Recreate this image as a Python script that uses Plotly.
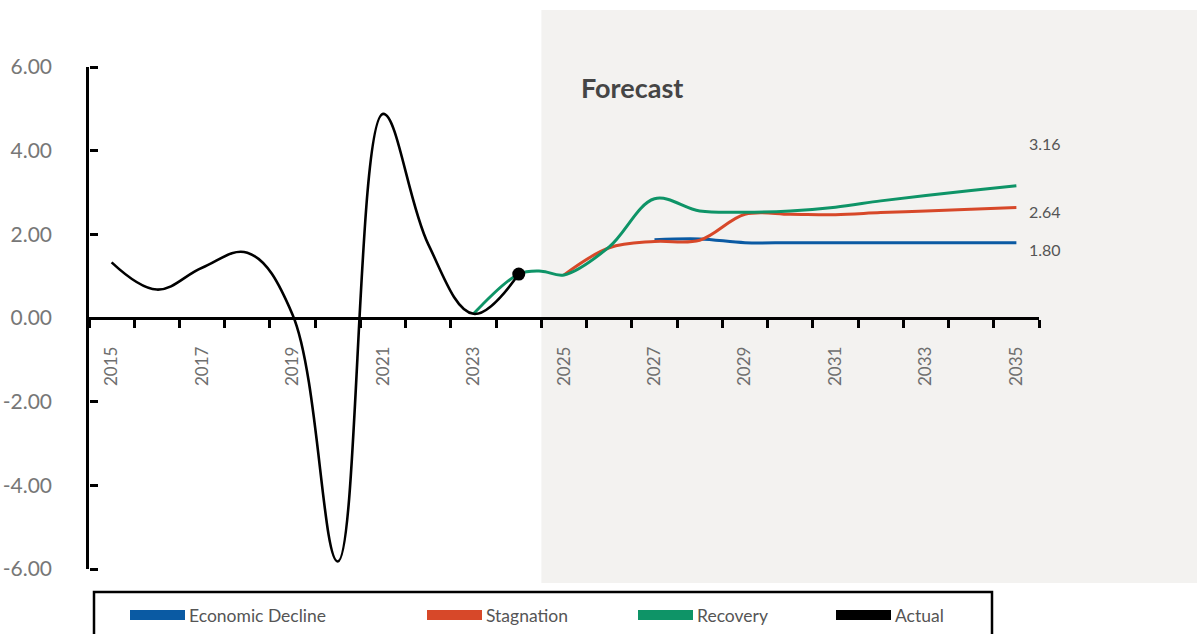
import plotly.graph_objects as go

# ---- data -------------------------------------------------------------
actual_years = [2015, 2016, 2017, 2018, 2019, 2020, 2021, 2022, 2023, 2024]
actual_vals = [1.33, 0.68, 1.20, 1.56, 0.08, -5.82, 4.88, 1.76, 0.10, 1.05]

recovery_years = [2023, 2024, 2024.5, 2025, 2026, 2027, 2028, 2029, 2030, 2031, 2032, 2033, 2034, 2035]
recovery_vals = [0.10, 1.05, 1.12, 1.03, 1.70, 2.85, 2.56, 2.53, 2.56, 2.65, 2.80, 2.93, 3.05, 3.16]

stagnation_years = [2025, 2026, 2027, 2028, 2029, 2030, 2031, 2032, 2033, 2034, 2035]
stagnation_vals = [1.03, 1.68, 1.83, 1.86, 2.48, 2.48, 2.47, 2.52, 2.56, 2.60, 2.64]

decline_years = [2027, 2028, 2029, 2030, 2031, 2032, 2033, 2034, 2035]
decline_vals = [1.87, 1.89, 1.80, 1.80, 1.80, 1.80, 1.80, 1.80, 1.80]

tick_years = list(range(2015, 2036, 2))
y_ticks = [-6, -4, -2, 0, 2, 4, 6]

# ---- styling ------------------------------------------------------------
C_DECLINE = "#0a5aa3"
C_STAG = "#d74829"
C_REC = "#0e9467"
C_ACT = "#000000"
GREY = "#6e6e6e"
FONT = "Lato"

W, H = 1197, 634
L, R, T, B = 89, 1039, 67, 569          # plot-area edges in pixels


def px_x(px):
    return (px - L) / (R - L)


def px_y(py):
    return (B - py) / (B - T)


fig = go.Figure()

line_kw = dict(mode="lines", hoverinfo="skip")

fig.add_trace(go.Scatter(x=decline_years, y=decline_vals, name="Economic Decline",
                         line=dict(color=C_DECLINE, width=3, shape="spline"), **line_kw))
fig.add_trace(go.Scatter(x=stagnation_years, y=stagnation_vals, name="Stagnation",
                         line=dict(color=C_STAG, width=3, shape="spline"), **line_kw))
fig.add_trace(go.Scatter(x=recovery_years, y=recovery_vals, name="Recovery",
                         line=dict(color=C_REC, width=3, shape="spline"), **line_kw))
fig.add_trace(go.Scatter(x=actual_years, y=actual_vals, name="Actual",
                         line=dict(color=C_ACT, width=2.6, shape="spline", smoothing=1.1),
                         **line_kw))
# last observed point (on the overlay axis that carries the y tick marks)
fig.add_trace(go.Scatter(x=[actual_years[-1]], y=[actual_vals[-1]], mode="markers",
                         marker=dict(color=C_ACT, size=13), hoverinfo="skip", yaxis="y2"))

# forecast shading
shapes = [dict(type="rect", xref="paper", yref="paper",
               x0=(2024.5 - 2014.5) / 21, x1=px_x(1200),
               y0=px_y(583), y1=px_y(10),
               fillcolor="#f3f2f0", line=dict(width=0), layer="below")]

annotations = [dict(text="<b>Forecast</b>", xref="paper", yref="paper",
                    x=px_x(579), y=px_y(88), xanchor="left", yanchor="middle",
                    showarrow=False, font=dict(family=FONT, size=27, color="#454545"))]

# end-of-line value labels
end_labels = [(recovery_vals[-1], 42), (stagnation_vals[-1], -4), (decline_vals[-1], -7)]
for val, dy in end_labels:
    annotations.append(dict(text=f"{val:.2f}", x=2035, y=val, xref="x", yref="y",
                            xanchor="left", yanchor="middle", xshift=11, yshift=dy,
                            showarrow=False, font=dict(family=FONT, size=16, color="#555555")))

# legend box drawn below the plot
shapes.append(dict(type="rect", xref="paper", yref="paper",
                   x0=px_x(94), x1=px_x(992), y0=px_y(592), y1=px_y(650),
                   line=dict(color="black", width=2.5), fillcolor="rgba(0,0,0,0)"))
legend_names = ["Economic Decline", "Stagnation", "Recovery", "Actual"]
legend_colors = [C_DECLINE, C_STAG, C_REC, C_ACT]
legend_px = [130, 427, 638, 836]
for name, col, lx in zip(legend_names, legend_colors, legend_px):
    shapes.append(dict(type="rect", xref="paper", yref="paper",
                       x0=px_x(lx), x1=px_x(lx + 55), y0=px_y(620), y1=px_y(610),
                       fillcolor=col, line=dict(width=0)))
    annotations.append(dict(text=name, xref="paper", yref="paper",
                            x=px_x(lx + 57), y=px_y(615), xanchor="left", yanchor="middle",
                            showarrow=False, font=dict(family=FONT, size=17.5, color="#555555")))

fig.update_layout(
    width=W, height=H, autosize=False,
    margin=dict(l=L, r=W - R, t=T, b=H - B, pad=0),
    paper_bgcolor="white", plot_bgcolor="rgba(0,0,0,0)",
    showlegend=False,
    shapes=shapes, annotations=annotations,
    font=dict(family=FONT, color=GREY),
)

fig.update_xaxes(
    range=[2014.5, 2035.5], anchor="free", position=0.5, automargin=False,
    showgrid=False, zeroline=False,
    showline=True, linecolor="black", linewidth=2.5,
    tickmode="array", tickvals=tick_years, ticktext=[str(y) for y in tick_years],
    ticks="", tickangle=-90, ticklabelstandoff=20,
    tickfont=dict(family=FONT, size=17, color=GREY),
    minor=dict(tickmode="array", tickvals=[2014.5 + k for k in range(22)],
               ticks="outside", ticklen=8, tickwidth=2.5, tickcolor="black", showgrid=False),
)

fig.update_layout(
    yaxis=dict(
        range=[-6, 6], automargin=False, showgrid=False, zeroline=False,
        showline=True, linecolor="black", linewidth=2.5,
        tickmode="array", tickvals=y_ticks, ticktext=[f"{v:.2f}" for v in y_ticks],
        ticks="", ticklabelstandoff=30,
        tickfont=dict(family=FONT, size=21, color="#777777"),
    ),
    # same scale, only used to draw the tick marks pointing into the plot
    yaxis2=dict(
        range=[-6, 6], overlaying="y", side="right", anchor="free", position=0,
        automargin=False, showgrid=False, zeroline=False, showline=False,
        tickmode="array", tickvals=y_ticks, showticklabels=False,
        ticks="outside", ticklen=8, tickwidth=2.5, tickcolor="black",
    ),
)

fig.write_html("out.html")
